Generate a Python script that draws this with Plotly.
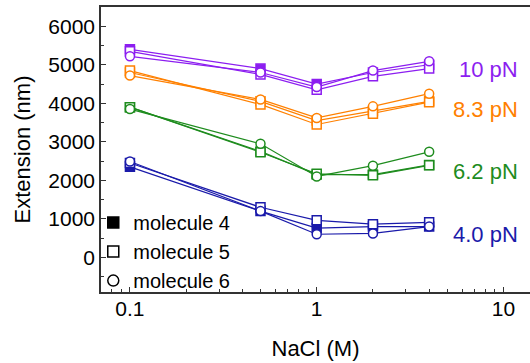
import plotly.graph_objects as go

nacl = [0.1, 0.5, 1, 2, 4]

forces = ["10 pN", "8.3 pN", "6.2 pN", "4.0 pN"]
colors = ["#8C1EF0", "#FF8000", "#1E8C1E", "#1A1AAA"]

# Extension (nm) for each force: molecule 4, 5, 6
ext_10 = {
    "m4": [5400, 4900, 4500, 4800, 5000],
    "m5": [5350, 4750, 4350, 4700, 4900],
    "m6": [5220, 4800, 4420, 4850, 5090],
}
ext_83 = {
    "m4": [4800, 4050, 3550, 3800, 4050],
    "m5": [4850, 3970, 3450, 3730, 4030],
    "m6": [4720, 4100, 3620, 3920, 4250],
}
ext_62 = {
    "m4": [3900, 2750, 2150, 2150, 2400],
    "m5": [3900, 2730, 2170, 2130, 2390],
    "m6": [3850, 2950, 2100, 2380, 2740],
}
ext_40 = {
    "m4": [2350, 1200, 760, 800, 800],
    "m5": [2450, 1300, 960, 860, 910],
    "m6": [2490, 1200, 600, 620, 800],
}
groups = [ext_10, ext_83, ext_62, ext_40]

label_y = [4875, 3840, 2230, 590]

mol_names = ["molecule 4", "molecule 5", "molecule 6"]
mol_keys = ["m4", "m5", "m6"]
mol_symbols = ["square", "square-open", "circle-open"]

fig = go.Figure()

for g, col in zip(groups, colors):
    for key, sym in zip(mol_keys, mol_symbols):
        filled = sym == "square"
        fig.add_trace(go.Scatter(
            x=nacl, y=g[key], mode="lines+markers",
            line=dict(color=col, width=1.2),
            marker=dict(symbol="square" if filled else sym.replace("-open", ""),
                        size=9,
                        color=col if filled else "white",
                        line=dict(color=col, width=1.5)),
            showlegend=False, hoverinfo="skip"))

for name, sym in zip(mol_names, mol_symbols):
    fig.add_trace(go.Scatter(
        x=[None], y=[None], mode="markers", name=name,
        marker=dict(symbol=sym, size=11, color="black",
                    line=dict(color="black", width=1.5))))

for txt, col, yv in zip(forces, colors, label_y):
    fig.add_annotation(x=1.09, y=yv, xref="x", yref="y", text=txt,
                       showarrow=False, xanchor="right", yanchor="middle",
                       font=dict(size=22, color=col))

ff = "Arial, Liberation Sans, sans-serif"
tick_font = dict(family=ff, size=21, color="black")
title_font = dict(family=ff, size=22, color="black")

fig.update_layout(
    width=530, height=363,
    margin=dict(l=101, r=0, t=7, b=71),
    plot_bgcolor="white", paper_bgcolor="white",
    font=dict(family=ff, size=21, color="black"),
    legend=dict(x=-0.018, y=0.312, xanchor="left", yanchor="top",
                bgcolor="rgba(0,0,0,0)", font=dict(family=ff, size=20, color="black"),
                tracegroupgap=0, itemsizing="trace"),
    xaxis=dict(type="log", range=[-1.155, 1.142], automargin=False,
               tickvals=[0.1, 1, 10], ticktext=["0.1", "1", "10"],
               ticks="inside", ticklen=5, tickwidth=1.2, tickcolor="#333",
               showline=True, linecolor="#333", linewidth=1.5, mirror=True,
               showgrid=False, zeroline=False, ticklabelstandoff=-3,
               minor=dict(ticks="inside", ticklen=3, tickcolor="#333", dtick="D1", showgrid=False),
               title=dict(text="NaCl (M)", standoff=22, font=title_font),
               tickfont=tick_font),
    yaxis=dict(range=[-900, 6500], dtick=1000, tick0=0, automargin=False,
               ticks="inside", ticklen=5, tickwidth=1.2, tickcolor="#333",
               showline=True, linecolor="#333", linewidth=1.5, mirror=False,
               showgrid=False, zeroline=False,
               minor=dict(ticks="inside", ticklen=3, tickcolor="#333", dtick=500, showgrid=False),
               title=dict(text="Extension (nm)", standoff=12, font=title_font),
               tickfont=tick_font),
)

fig.write_html("out.html", config={"displayModeBar": False},
               post_script="document.body.style.margin='0';")
